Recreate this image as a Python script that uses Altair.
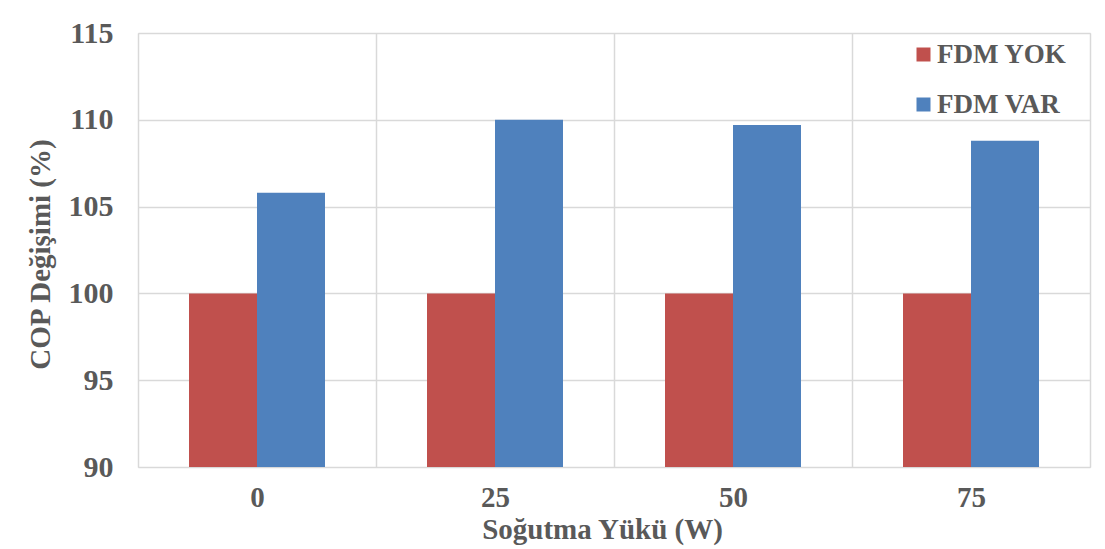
import altair as alt
import pandas as pd

categories = ["0", "25", "50", "75"]
series_names = ["FDM YOK", "FDM VAR"]
fdm_yok = [100.0, 100.0, 100.0, 100.0]
fdm_var = [105.8, 110.0, 109.7, 108.8]
y_ticks = [90, 95, 100, 105, 110, 115]
colors = ["#C0504D", "#4F81BD"]

rows = []
for c, a, b in zip(categories, fdm_yok, fdm_var):
    rows.append({"load": c, "series": series_names[0], "value": a})
    rows.append({"load": c, "series": series_names[1], "value": b})
df = pd.DataFrame(rows)

FONT = "Liberation Serif"
TXT = "#595959"
GRID = "#D9D9D9"

chart = alt.Chart(df).mark_bar().encode(
    x=alt.X("load:N", sort=categories,
            scale=alt.Scale(paddingInner=0, paddingOuter=0),
            axis=alt.Axis(title="Soğutma Yükü (W)", labelAngle=0, tickBand="extent",
                          grid=True, gridColor=GRID, gridWidth=1.5,
                          domain=False, ticks=False, tickSize=0,
                          labelFont=FONT, labelFontSize=29, labelFontWeight="bold",
                          labelColor=TXT, labelPadding=16,
                          titleFont=FONT, titleFontSize=29, titleFontWeight="bold",
                          titleColor=TXT, titleX=464, titleY=71,
                          titleAlign="center", titleBaseline="alphabetic")),
    xOffset=alt.XOffset("series:N", sort=series_names,
                        scale=alt.Scale(paddingInner=0, paddingOuter=0.75)),
    y=alt.Y("value:Q",
            scale=alt.Scale(domain=[90, 115], nice=False, zero=False),
            axis=alt.Axis(title="COP Değişimi (%)", values=y_ticks,
                          grid=True, gridColor=GRID, gridWidth=1.5,
                          domain=False, ticks=False, tickSize=0,
                          labelFont=FONT, labelFontSize=30, labelFontWeight="bold",
                          labelColor=TXT, labelPadding=25,
                          titleFont=FONT, titleFontSize=29, titleFontWeight="bold",
                          titleColor=TXT, titleX=-98, titleY=221,
                          titleAlign="center", titleBaseline="middle")),
    y2=alt.datum(90),
    color=alt.Color("series:N", sort=series_names,
                    scale=alt.Scale(domain=series_names, range=colors),
                    legend=alt.Legend(title=None, orient="none", legendX=772, legendY=8,
                                      symbolType="square", symbolSize=196,
                                      symbolStrokeWidth=0, padding=0,
                                      rowPadding=22, labelOffset=0,
                                      labelFont=FONT, labelFontSize=27,
                                      labelFontWeight="bold", labelColor=TXT)),
).properties(
    width=952,
    height=434,
    autosize=alt.AutoSizeParams(type="none"),
    padding={"left": 138, "top": 33, "right": 15, "bottom": 82},
).configure_view(
    stroke=GRID, strokeWidth=1.5
).configure(background="white")

chart.save("out.html", embed_options={"renderer": "svg", "actions": False})
